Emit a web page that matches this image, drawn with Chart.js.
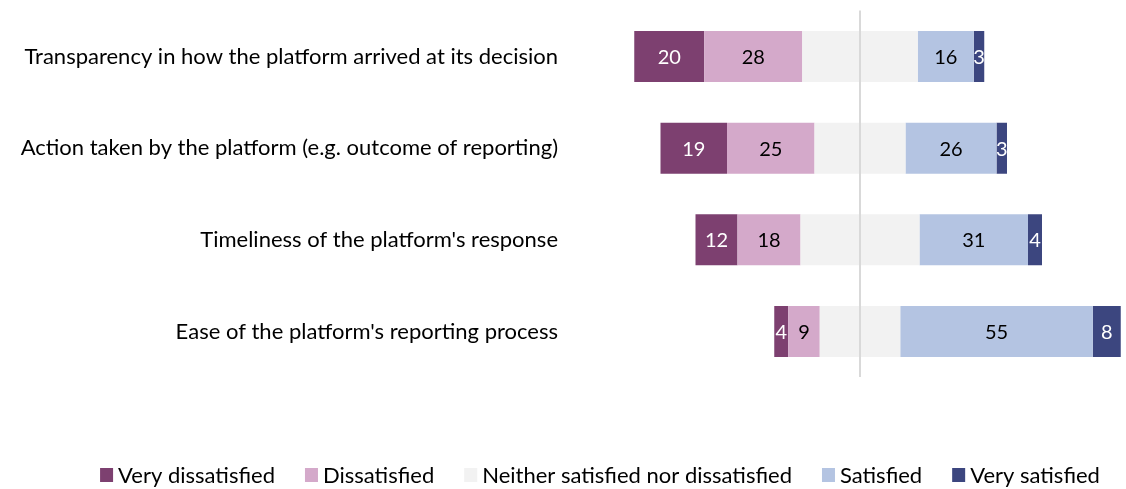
<!DOCTYPE html>
<html>
<head>
<meta charset="utf-8">
<script src="https://cdn.jsdelivr.net/npm/chart.js@4"></script>
<style>
  html, body { margin: 0; padding: 0; background: #fff; }
  #wrap { width: 1126px; height: 489px; }
</style>
</head>
<body>
<div id="wrap"><canvas id="satChart"></canvas></div>
<script>
const questions = [
  "Transparency in how the platform arrived at its decision",
  "Action taken by the platform (e.g. outcome of reporting)",
  "Timeliness of the platform's response",
  "Ease of the platform's reporting process"
];
const veryDissatisfied = [20, 19, 12, 4];
const dissatisfied = [28, 25, 18, 9];
const neutral = [33, 26, 34, 23];
const satisfied = [16, 26, 31, 55];
const verySatisfied = [3, 3, 4, 8];

const colors = {
  veryDis: "#7d4070",
  dis: "#d4a9ca",
  neutral: "#f2f2f2",
  sat: "#b4c4e2",
  verySat: "#3c467f"
};

const FONT = "Lato";
const TEXT_SIZE = 22;
const VALUE_SIZE = 20;

// value labels centred in each segment
const segmentLabels = {
  id: "segmentLabels",
  afterDatasetsDraw(chart) {
    const ctx = chart.ctx;
    ctx.save();
    ctx.font = VALUE_SIZE + "px " + FONT;
    ctx.textAlign = "center";
    ctx.textBaseline = "middle";
    chart.data.datasets.forEach((ds, i) => {
      if (!ds.shown) return;
      const meta = chart.getDatasetMeta(i);
      meta.data.forEach((bar, j) => {
        const { x, base, y } = bar.getProps(["x", "base", "y"], true);
        ctx.fillStyle = ds.textColor;
        ctx.fillText(ds.shown[j], (x + base) / 2, y + 1);
      });
    });
    ctx.restore();
  }
};

// legend along the bottom, one entry per response category
const bottomLegend = {
  id: "bottomLegend",
  afterDraw(chart) {
    const ctx = chart.ctx;
    const items = chart.data.datasets
      .filter(ds => ds.legendOrder !== undefined)
      .sort((a, b) => a.legendOrder - b.legendOrder);
    ctx.save();
    ctx.font = TEXT_SIZE + "px " + FONT;
    ctx.textBaseline = "middle";
    const box = 13, gap = 5, spacing = 30;
    const widths = items.map(ds => box + gap + ctx.measureText(ds.label).width);
    const total = widths.reduce((a, b) => a + b, 0) + spacing * (items.length - 1);
    let x = 600 - total / 2;
    const y = 475;
    items.forEach((ds, i) => {
      ctx.fillStyle = ds.backgroundColor;
      ctx.fillRect(x, y - 7, box, 14);
      ctx.fillStyle = "#000";
      ctx.fillText(ds.label, x + box + gap, y + 1);
      x += widths[i] + spacing;
    });
    ctx.restore();
  }
};

window.addEventListener("DOMContentLoaded", () => {
  const ctx = document.getElementById("satChart").getContext("2d");

  new Chart(ctx, {
    type: "bar",
    data: {
      labels: questions,
      datasets: [
        // negatives stack outward from zero in dataset order
        {
          label: "Neither satisfied nor dissatisfied",
          data: neutral.map(v => -v / 2),
          backgroundColor: colors.neutral,
          legendOrder: 2
        },
        {
          label: "Dissatisfied",
          data: dissatisfied.map(v => -v),
          backgroundColor: colors.dis,
          shown: dissatisfied,
          textColor: "#000",
          legendOrder: 1
        },
        {
          label: "Very dissatisfied",
          data: veryDissatisfied.map(v => -v),
          backgroundColor: colors.veryDis,
          shown: veryDissatisfied,
          textColor: "#fff",
          legendOrder: 0
        },
        {
          label: "Neither satisfied nor dissatisfied ",
          data: neutral.map(v => v / 2),
          backgroundColor: colors.neutral
        },
        {
          label: "Satisfied",
          data: satisfied,
          backgroundColor: colors.sat,
          shown: satisfied,
          textColor: "#000",
          legendOrder: 3
        },
        {
          label: "Very satisfied",
          data: verySatisfied,
          backgroundColor: colors.verySat,
          shown: verySatisfied,
          textColor: "#fff",
          legendOrder: 4
        }
      ]
    },
    options: {
      indexAxis: "y",
      responsive: true,
      maintainAspectRatio: false,
      animation: false,
      layout: {
        padding: { top: 10.6, right: 3.5, left: 0, bottom: 0 }
      },
      datasets: {
        bar: {
          barPercentage: 0.556,
          categoryPercentage: 1,
          borderWidth: 0
        }
      },
      plugins: {
        legend: { display: false },
        tooltip: { enabled: false }
      },
      scales: {
        x: {
          stacked: true,
          min: -80,
          max: 75,
          ticks: { display: false, stepSize: 5 },
          grid: {
            drawTicks: false,
            lineWidth: 2,
            color: c => (c.tick && c.tick.value === 0 ? "#d9d9d9" : "rgba(0,0,0,0)")
          },
          border: { display: false },
          afterFit: axis => { axis.height = 111.6; }
        },
        y: {
          stacked: true,
          ticks: {
            color: "#000",
            padding: 22,
            font: { family: FONT, size: TEXT_SIZE }
          },
          grid: { display: false, drawTicks: false },
          border: { display: false },
          afterFit: axis => {
            axis.width = 580;
            axis.paddingTop = 0;
            axis.paddingBottom = 0;
          }
        }
      }
    },
    plugins: [segmentLabels, bottomLegend]
  });
});
</script>
</body>
</html>
